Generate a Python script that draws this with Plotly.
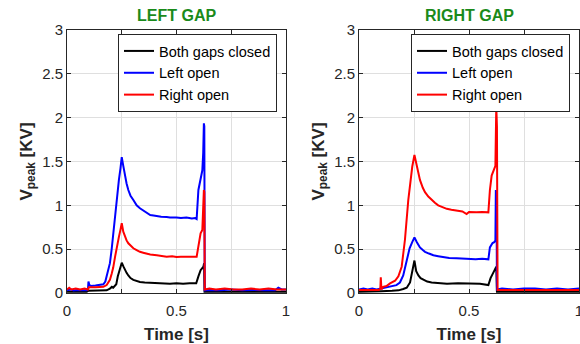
import plotly.graph_objects as go

# ---------------- data: LEFT GAP panel ----------------
t_left_closed = [0, 0.03, 0.06, 0.09, 0.097, 0.12, 0.15, 0.181, 0.196, 0.205, 0.211, 0.218, 0.225, 0.232,
                 0.24, 0.25, 0.258, 0.265, 0.272, 0.28, 0.29, 0.303, 0.318, 0.333, 0.355, 0.38, 0.41, 0.44,
                 0.47, 0.5, 0.53, 0.56, 0.59, 0.6, 0.61, 0.623, 0.626, 0.628, 0.65, 0.75, 0.85, 0.95, 1.0]
v_left_closed = [0.015, 0.015, 0.015, 0.015, 0.025, 0.025, 0.025, 0.03, 0.05, 0.07, 0.06, 0.08, 0.1, 0.19,
                 0.27, 0.346, 0.3, 0.26, 0.23, 0.2, 0.17, 0.15, 0.135, 0.125, 0.12, 0.115, 0.11, 0.11,
                 0.105, 0.11, 0.105, 0.11, 0.11, 0.19, 0.26, 0.3, 0.34, 0.015, 0.015, 0.015, 0.015, 0.015, 0.015]

t_left_lopen = [0, 0.02, 0.03, 0.05, 0.07, 0.09, 0.096, 0.098, 0.102, 0.11, 0.13, 0.15, 0.166, 0.175, 0.181,
                0.19, 0.196, 0.204, 0.211, 0.22, 0.227, 0.237, 0.244, 0.25, 0.257, 0.265, 0.272, 0.28, 0.29,
                0.303, 0.318, 0.333, 0.348, 0.364, 0.38, 0.395, 0.41, 0.43, 0.455, 0.47, 0.5, 0.52, 0.546,
                0.57, 0.585, 0.592, 0.6, 0.605, 0.61, 0.618, 0.622, 0.625, 0.627, 0.629, 0.65, 0.7, 0.75,
                0.8, 0.85, 0.9, 0.95, 0.965, 0.98, 1.0]
v_left_lopen = [0.03, 0.04, 0.03, 0.035, 0.03, 0.03, 0.05, 0.13, 0.09, 0.08, 0.085, 0.09, 0.1, 0.13, 0.186,
                0.26, 0.34, 0.5, 0.68, 0.9, 1.1, 1.29, 1.42, 1.55, 1.45, 1.33, 1.25, 1.175, 1.11,
                1.06, 1.0, 0.966, 0.94, 0.91, 0.89, 0.885, 0.878, 0.87, 0.866, 0.86, 0.862, 0.855, 0.862,
                0.85, 0.855, 0.844, 1.175, 1.25, 1.33, 1.4, 1.6, 1.936, 1.9, 0.03, 0.035, 0.03, 0.04,
                0.03, 0.035, 0.03, 0.03, 0.06, 0.04, 0.04]

t_left_ropen = [0, 0.01, 0.02, 0.04, 0.06, 0.08, 0.096, 0.1, 0.13, 0.166, 0.181, 0.196, 0.204, 0.211, 0.22,
                0.227, 0.237, 0.244, 0.25, 0.257, 0.265, 0.272, 0.28, 0.29, 0.303, 0.318, 0.333, 0.348,
                0.364, 0.38, 0.41, 0.43, 0.455, 0.48, 0.5, 0.52, 0.546, 0.57, 0.592, 0.6, 0.61, 0.618,
                0.622, 0.625, 0.627, 0.629, 0.65, 0.68, 0.72, 0.76, 0.8, 0.84, 0.88, 0.92, 0.96, 1.0]
v_left_ropen = [0.04, 0.06, 0.04, 0.05, 0.04, 0.05, 0.04, 0.065, 0.065, 0.07, 0.09, 0.15, 0.22, 0.29, 0.42,
                0.53, 0.64, 0.72, 0.795, 0.7, 0.64, 0.6, 0.567, 0.54, 0.51, 0.49, 0.47, 0.46,
                0.45, 0.44, 0.43, 0.42, 0.414, 0.42, 0.41, 0.414, 0.41, 0.414, 0.414, 0.53, 0.68, 0.72,
                0.9, 1.175, 1.15, 0.04, 0.05, 0.04, 0.05, 0.04, 0.04, 0.05, 0.04, 0.05, 0.04, 0.04]

# ---------------- data: RIGHT GAP panel ----------------
t_right_closed = [0, 0.05, 0.1, 0.15, 0.18, 0.201, 0.217, 0.232, 0.242, 0.252, 0.26, 0.27, 0.28, 0.293,
                  0.31, 0.33, 0.368, 0.4, 0.45, 0.5, 0.55, 0.588, 0.598, 0.61, 0.62, 0.624, 0.627, 0.65,
                  0.8, 1.0]
v_right_closed = [0.015, 0.015, 0.02, 0.025, 0.03, 0.045, 0.06, 0.12, 0.23, 0.37, 0.25, 0.2, 0.17, 0.15,
                  0.13, 0.12, 0.11, 0.105, 0.11, 0.105, 0.105, 0.09, 0.17, 0.23, 0.28, 0.3, 0.015, 0.015,
                  0.015, 0.015]

t_right_lopen = [0, 0.02, 0.04, 0.06, 0.08, 0.098, 0.13, 0.17, 0.186, 0.201, 0.217, 0.23, 0.242, 0.252,
                 0.263, 0.277, 0.29, 0.3, 0.318, 0.338, 0.36, 0.383, 0.41, 0.444, 0.47, 0.5, 0.53, 0.56,
                 0.588, 0.595, 0.607, 0.615, 0.62, 0.622, 0.625, 0.627, 0.65, 0.7, 0.75, 0.8, 0.85, 0.9,
                 0.95, 1.0]
v_right_lopen = [0.04, 0.05, 0.04, 0.05, 0.04, 0.05, 0.06, 0.09, 0.12, 0.2, 0.37, 0.51, 0.58, 0.635,
                 0.58, 0.52, 0.49, 0.47, 0.45, 0.43, 0.42, 0.41, 0.4, 0.395, 0.39, 0.385, 0.384, 0.39,
                 0.384, 0.52, 0.57, 0.58, 0.6, 1.175, 1.1, 0.04, 0.05, 0.04, 0.05, 0.05, 0.04, 0.05,
                 0.04, 0.05]

t_right_ropen = [0, 0.03, 0.06, 0.09, 0.097, 0.099, 0.102, 0.11, 0.125, 0.141, 0.164, 0.179, 0.194, 0.209,
                 0.224, 0.232, 0.242, 0.252, 0.263, 0.277, 0.29, 0.3, 0.315, 0.33, 0.345, 0.36, 0.38,
                 0.399, 0.42, 0.444, 0.47, 0.489, 0.5, 0.534, 0.56, 0.588, 0.595, 0.603, 0.614, 0.62,
                 0.624, 0.627, 0.63, 0.66, 0.7, 0.75, 0.8, 0.85, 0.9, 0.95, 1.0]
v_right_ropen = [0.035, 0.035, 0.035, 0.035, 0.05, 0.18, 0.04, 0.07, 0.08, 0.11, 0.14, 0.19, 0.3, 0.61,
                 1.06, 1.23, 1.44, 1.574, 1.44, 1.29, 1.2, 1.15, 1.1, 1.06, 1.03, 1.0, 0.98,
                 0.96, 0.95, 0.94, 0.93, 0.9, 0.925, 0.92, 0.925, 0.92, 1.175, 1.34, 1.41, 1.45,
                 2.13, 1.9, 0.035, 0.035, 0.035, 0.035, 0.035, 0.035, 0.035, 0.035, 0.035]

series_names = ["Both gaps closed", "Left open", "Right open"]
series_colors = ["#000000", "#0000ff", "#ff0000"]
panel_titles = ["LEFT GAP", "RIGHT GAP"]
x_ticks = [0, 0.25, 0.5, 0.75, 1]
x_ticktext = ["0", "", "0.5", "", "1"]
y_ticks = [0, 0.5, 1, 1.5, 2, 2.5, 3]
y_ticktext = ["0", "0.5", "1", "1.5", "2", "2.5", "3"]

panels = [
    [(t_left_closed, v_left_closed), (t_left_lopen, v_left_lopen), (t_left_ropen, v_left_ropen)],
    [(t_right_closed, v_right_closed), (t_right_lopen, v_right_lopen), (t_right_ropen, v_right_ropen)],
]

W, H = 580, 344
x_domains = [[67 / W, 286 / W], [359 / W, 579 / W]]
y_domain = [1 - 293 / H, 1 - 30 / H]
FONT = "Liberation Sans, Arial, sans-serif"

fig = go.Figure()
for p, series in enumerate(panels):
    ax = "" if p == 0 else "2"
    leg = "legend" if p == 0 else "legend2"
    for (t, v), name, col in zip(series, series_names, series_colors):
        fig.add_trace(go.Scatter(x=t, y=v, mode="lines", name=name,
                                 line=dict(color=col, width=2),
                                 xaxis="x" + ax, yaxis="y" + ax, legend=leg))

axis_common = dict(showline=True, linecolor="#262626", linewidth=1, mirror="allticks",
                   ticks="inside", ticklen=4, tickcolor="#262626", automargin=False,
                   showgrid=True, gridcolor="#dfdfdf", gridwidth=1, zeroline=False,
                   ticklabeloverflow="allow",
                   tickfont=dict(family=FONT, size=15, color="#262626"))

layout = dict(width=W, height=H, margin=dict(l=0, r=0, t=0, b=0, autoexpand=False),
              plot_bgcolor="white", paper_bgcolor="white", showlegend=True,
              font=dict(family=FONT, color="#262626"))
for p in range(2):
    ax = "" if p == 0 else "2"
    layout["xaxis" + ax] = dict(axis_common, domain=x_domains[p], range=[0, 1],
                                tickvals=x_ticks, ticktext=x_ticktext,
                                anchor="y" + ax, ticklabelstandoff=4,
                                title=dict(text="<b>Time [s]</b>", standoff=10,
                                           font=dict(family=FONT, size=17, color="#262626")))
    layout["yaxis" + ax] = dict(axis_common, domain=y_domain, range=[0, 3],
                                tickvals=y_ticks, ticktext=y_ticktext,
                                anchor="x" + ax,
                                title=dict(text="<b>V<sub>peak</sub> [KV]</b>", standoff=5,
                                           font=dict(family=FONT, size=17, color="#262626")))
    leg = "legend" if p == 0 else "legend2"
    layout[leg] = dict(x=(277 if p == 0 else 570) / W, y=1 - 34 / H, xanchor="right", yanchor="top",
                       bgcolor="white", bordercolor="#262626", borderwidth=1,
                       font=dict(family=FONT, size=14.5, color="#000000"),
                       tracegroupgap=0, itemwidth=30)

fig.update_layout(**layout)
for p in range(2):
    fig.add_annotation(text="<b>" + panel_titles[p] + "</b>", xref="paper", yref="paper",
                       x=sum(x_domains[p]) / 2, y=1 - 15.5 / H, xanchor="center", yanchor="middle",
                       showarrow=False, font=dict(family=FONT, size=16, color="#1a8a1a"))

fig.write_html("out.html", config={"displayModeBar": False},
               post_script="document.body.style.margin='0';")
